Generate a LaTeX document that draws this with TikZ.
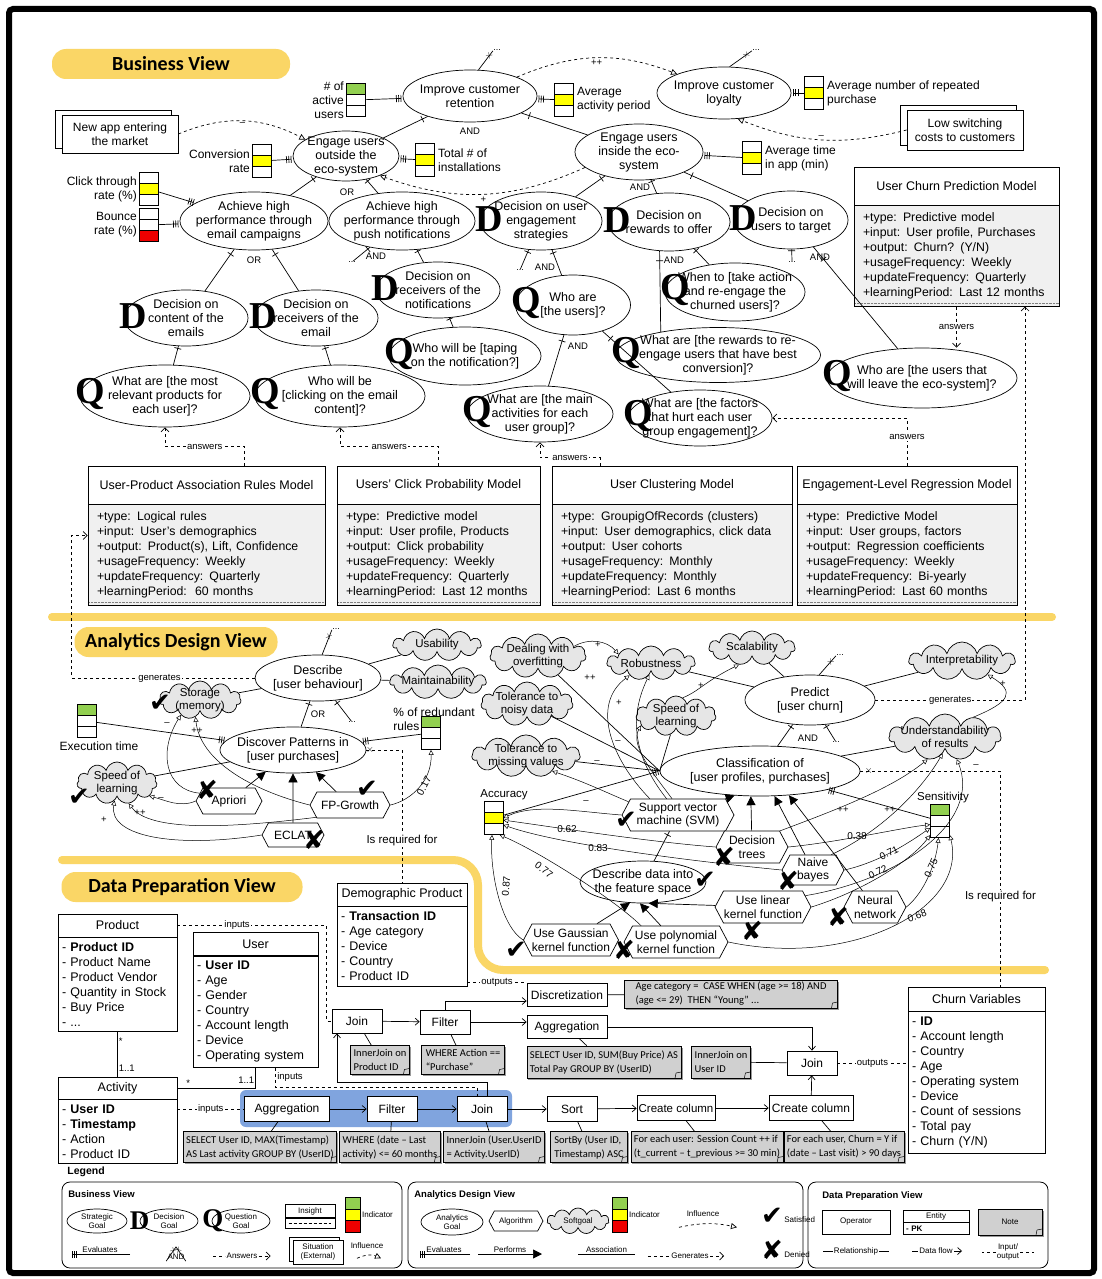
\documentclass[tikz,border=0pt]{standalone}
\usepackage{fontspec}
\setmainfont{Liberation Sans}
\newfontfamily\dqfont{Liberation Serif}
\newfontfamily\calfont{Carlito}
\newfontfamily\markfont{DejaVu Sans}
\usepackage{tikz}
\usetikzlibrary{arrows.meta}
\usetikzlibrary{calc}
\usetikzlibrary{positioning}
\usetikzlibrary{shapes.geometric}
\usetikzlibrary{shapes.symbols}
\usetikzlibrary{shadows}
\newcommand{\fsz}[2]{\fontsize{#1}{#2}\selectfont}
\definecolor{viewyellow}{RGB}{250,214,102}
\definecolor{indgreen}{RGB}{146,208,80}
\definecolor{indyellow}{RGB}{255,255,0}
\definecolor{indred}{RGB}{238,0,0}
\definecolor{softgray}{RGB}{230,230,230}
\definecolor{bodygray}{RGB}{240,240,240}
\definecolor{notegray}{RGB}{208,208,208}
\definecolor{flowblue}{RGB}{128,164,222}
\tikzset{
    viewtitle/.style = {fill=viewyellow,rounded corners=14pt,minimum height=30pt,inner sep=0pt,font=\calfont\bfseries\fsz{20}{21}},
    viewline/.style = {viewyellow,line width=8pt,line cap=round},
    goal/.style = {draw,fill=white,ellipse,align=center,inner xsep=-8pt,inner ysep=-2pt,font=\fsz{12.5}{14}},
    dq/.style = {inner sep=0pt,font=\dqfont\bfseries\fsz{38}{38}},
    dgoal/.style = {goal,label={[dq,label distance=-24pt,yshift=2pt]west:D}},
    qgoal/.style = {goal,label={[dq,label distance=-26pt,yshift=2pt]west:Q}},
    situation/.style = {draw,fill=white,align=center,inner sep=2pt,font=\fsz{12}{14},copy shadow={shadow xshift=-7pt,shadow yshift=5pt,draw,fill=white}},
    legsituation/.style = {draw,fill=white,align=center,inner sep=1pt,font=\fsz{8}{9},copy shadow={shadow xshift=-4pt,shadow yshift=3pt,draw,fill=white}},
    indicator/.style n args = {3}{draw,fill=white,minimum width=19pt,minimum height=33pt,inner sep=0pt,
        path picture={
            \fill[#1] (path picture bounding box.north west) rectangle ($(path picture bounding box.north east)!1/3!(path picture bounding box.south east)$);
            \fill[#2] ($(path picture bounding box.north west)!1/3!(path picture bounding box.south west)$) rectangle ($(path picture bounding box.north east)!2/3!(path picture bounding box.south east)$);
            \fill[#3] ($(path picture bounding box.north west)!2/3!(path picture bounding box.south west)$) rectangle (path picture bounding box.south east);
            \draw ($(path picture bounding box.north west)!1/3!(path picture bounding box.south west)$) -- ($(path picture bounding box.north east)!1/3!(path picture bounding box.south east)$);
            \draw ($(path picture bounding box.north west)!2/3!(path picture bounding box.south west)$) -- ($(path picture bounding box.north east)!2/3!(path picture bounding box.south east)$);}},
    indlabel/.style = {inner sep=2pt,font=\fsz{12}{14}},
    modelhead/.style = {draw,fill=white,minimum height=38pt,inner sep=0pt,font=\fsz{12.5}{14}},
    modelbody/.style = {draw,fill=bodygray,anchor=north,align=left,inner xsep=9pt,inner ysep=7pt,font=\fsz{12.3}{15},
        path picture={\draw[densely dotted,line width=.4pt,gray] ([yshift=3pt]path picture bounding box.south west) -- ([yshift=3pt]path picture bounding box.south east);}},
    soft/.style = {draw,fill=softgray,cloud,cloud puffs=11,cloud ignores aspect,align=center,inner xsep=-8pt,inner ysep=-3pt,font=\fsz{11.5}{13}},
    algo/.style = {draw,fill=white,signal,signal to=east and west,signal pointer angle=124,align=center,inner xsep=0pt,inner ysep=1pt,font=\fsz{12}{13.5}},
    satisfied/.style = {inner sep=0pt,font=\markfont\fsz{26}{26},node contents=✔},
    denied/.style = {inner sep=0pt,font=\markfont\fsz{26}{26},node contents=✘},
    entityhead/.style = {draw,fill=white,minimum height=23pt,inner sep=0pt,font=\fsz{12.5}{14}},
    entitybody/.style = {draw,fill=white,anchor=north,align=left,inner xsep=4pt,inner ysep=5pt,font=\fsz{12.5}{15}},
    operator/.style = {draw,fill=white,minimum height=24pt,inner sep=0pt,font=\fsz{12}{14}},
    note/.style = {draw,fill=notegray,align=left,inner xsep=3pt,inner ysep=2pt,font=\calfont\fsz{10.5}{14},
        drop shadow={shadow xshift=1.5pt,shadow yshift=-1.5pt,opacity=.8},
        path picture={\draw[line width=.5pt] ([xshift=-6pt]path picture bounding box.south east) -- ([xshift=-5pt,yshift=5pt]path picture bounding box.south east) -- ([yshift=6pt]path picture bounding box.south east);}},
    more/.style = {inner sep=0pt,font=\fsz{9}{9}},
    lbl/.style = {inner sep=1pt,font=\fsz{9.5}{10}},
    lblw/.style = {lbl,fill=white},
    num/.style = {inner sep=0.5pt,font=\fsz{10}{11}},
    tick/.style = {sloped,draw,inner sep=0pt,minimum width=0pt,minimum height=7pt},
    xmark/.style = {sloped,inner sep=0pt,font=\fsz{10}{10}},
    evaluates/.style = {-{Bar[width=7pt,sep=1.6pt]Bar[width=7pt,sep=1.6pt]Bar[width=7pt,sep=1.6pt]}},
    influence/.style = {dashed,-{Triangle[open,length=6pt,width=6pt]}},
    infl/.style = {line width=.5pt,-{Triangle[open,length=5pt,width=5pt]}},
    performs/.style = {-{Triangle[length=9pt,width=9pt]}},
    answers/.style = {dashed,-{Straight Barb[length=4pt,width=8pt]}},
    required/.style = {dashed},
    flow/.style = {-{Straight Barb[length=4pt,width=7pt]}},
    io/.style = {dashed},
    legendbox/.style = {draw,rounded corners=8pt,line width=.8pt},
    legtitle/.style = {inner sep=0pt,font=\bfseries\fsz{9.5}{11}},
    legtext/.style = {inner sep=1pt,font=\fsz{8}{9}},
    leggoal/.style = {draw,fill=white,ellipse,align=center,inner xsep=-3pt,inner ysep=-1pt,font=\fsz{8}{9}},
    legdq/.style = {inner sep=0pt,font=\dqfont\bfseries\fsz{27}{27}}
}
\begin{document}
\begin{tikzpicture}[x=1pt,y=-1pt,line width=0.7pt]
    \useasboundingbox (0,0) rectangle (1102,1279);
    \fill[white] (0,0) rectangle (1102,1279);
    % Frame
    \draw[line width=6pt,rounded corners=4pt] (9,9) rectangle (1094,1273);

    % ================= Business View =================
    \node[viewtitle,minimum width=238pt] (bvtitle) at (171,64) {Business View};
    % Goals
    \node[goal,minimum width=134pt,minimum height=52pt] (retention) at (470,96) {Improve customer\\retention};
    \node[goal,minimum width=134pt,minimum height=52pt] (loyalty) at (724,93) {Improve customer\\loyalty};
    \node[goal,minimum width=106pt,minimum height=50pt] (outside) at (346,156) {Engage users\\outside the\\eco-system};
    \node[goal,minimum width=128pt,minimum height=56pt] (inside) at (639,152) {Engage users\\inside the eco-\\system};
    \node[goal,minimum width=148pt,minimum height=58pt] (email) at (254,221) {Achieve high\\performance through\\email campaigns};
    \node[goal,minimum width=146pt,minimum height=58pt] (push) at (402,221) {Achieve high\\performance through\\push notifications};
    % Decisions
    \node[dgoal,minimum width=122pt,minimum height=58pt] (strategies) at (541,221) {Decision on user\\engagement\\strategies};
    \node[dgoal,minimum width=122pt,minimum height=58pt] (rewards) at (669,222) {Decision on\\rewards to offer};
    \node[dgoal,minimum width=114pt,minimum height=58pt] (target) at (791,220) {Decision on\\users to target};
    \node[dgoal,minimum width=124pt,minimum height=56pt] (content) at (186,318) {Decision on\\content of the\\emails};
    \node[dgoal,minimum width=124pt,minimum height=56pt] (receivers) at (316,318) {Decision on\\receivers of the\\email};
    \node[dgoal,minimum width=124pt,minimum height=56pt] (notifrec) at (438,290) {Decision on\\receivers of the\\notifications};
    % Questions
    \node[qgoal,minimum width=115pt,minimum height=60pt] (whousers) at (573,305) {Who are\\{}[the users]?};
    \node[qgoal,minimum width=140pt,minimum height=58pt] (whentake) at (735,292) {When to [take action\\and re-engage the\\churned users]?};
    \node[qgoal,minimum width=205pt,minimum height=55pt] (rewardsq) at (718,355) {What are [the rewards to re-\\engage users that have best\\conversion]?};
    \node[qgoal,minimum width=190pt,minimum height=60pt] (leaveq) at (922,378) {Who are [the users that\\will leave the eco-system]?};
    \node[qgoal,minimum width=170pt,minimum height=62pt] (productsq) at (165,396) {What are [the most\\relevant products for\\each user]?};
    \node[qgoal,minimum width=170pt,minimum height=62pt] (clickq) at (340,396) {Who will be\\{}[clicking on the email\\content]?};
    \node[qgoal,minimum width=152pt,minimum height=58pt] (tapq) at (465,356) {Who will be [taping\\on the notification?]};
    \node[qgoal,minimum width=146pt,minimum height=56pt] (activitiesq) at (540,414) {What are [the main\\activities for each\\user group]?};
    \node[qgoal,minimum width=144pt,minimum height=56pt] (factorsq) at (700,418) {What are [the factors\\that hurt each user\\group engagement]?};
    % Indicators
    \node[indicator={indgreen}{white}{white}] (activeind) at (356,100) {};
    \node[indicator={white}{indyellow}{white}] (periodind) at (564,100) {};
    \node[indicator={white}{indyellow}{white}] (repeatind) at (814,93) {};
    \node[indicator={white}{indyellow}{white}] (conversionind) at (262,161) {};
    \node[indicator={white}{indyellow}{white}] (installind) at (425,160) {};
    \node[indicator={white}{indyellow}{white}] (timeind) at (752,158) {};
    \node[indicator={white}{indyellow}{white}] (clickind) at (149,189) {};
    \node[indicator={white}{white}{indred}] (bounceind) at (149,225) {};
    \node[indlabel,align=right,left=0pt of activeind] (activelbl) {\# of\\active\\users};
    \node[indlabel,align=left,right=1pt of periodind] (periodlbl) {Average\\activity period};
    \node[indlabel,align=left,right=1pt of repeatind] (repeatlbl) {Average number of repeated\\purchase};
    \node[indlabel,align=right,left=0pt of conversionind] (conversionlbl) {Conversion\\rate};
    \node[indlabel,align=left,right=1pt of installind] (installlbl) {Total \# of\\installations};
    \node[indlabel,align=left,right=1pt of timeind] (timelbl) {Average time\\in app (min)};
    \node[indlabel,align=right,left=0pt of clickind] (clicklbl) {Click through\\rate (\%)};
    \node[indlabel,align=right,left=0pt of bounceind] (bouncelbl) {Bounce\\rate (\%)};
    % Situations
    \node[situation,minimum width=116pt,minimum height=38pt] (newapp) at (120,134) {New app entering\\the market};
    \node[situation,minimum width=116pt,minimum height=40pt] (switching) at (965,130) {Low switching\\costs to customers};
    % Insights
    \node[modelhead,minimum width=205pt] (churnhead) at (956.5,186) {User Churn Prediction Model};
    \node[modelbody,text width=187pt] (churnbody) at (churnhead.south) {+type: Predictive model\\+input: User profile, Purchases\\+output: Churn? (Y/N)\\+usageFrequency: Weekly\\+updateFrequency: Quarterly\\+learningPeriod: Last 12 months};
    \node[modelhead,minimum width=237pt] (Ahead) at (206.5,485) {User-Product Association Rules Model};
    \node[modelbody,text width=219pt] (Abody) at (Ahead.south) {+type: Logical rules\\+input: User's demographics\\+output: Product(s), Lift, Confidence\\+usageFrequency: Weekly\\+updateFrequency: Quarterly\\+learningPeriod:\ \ 60 months};
    \node[modelhead,minimum width=203pt] (Bhead) at (438.5,485) {Users' Click Probability Model};
    \node[modelbody,text width=185pt] (Bbody) at (Bhead.south) {+type: Predictive model\\+input: User profile, Products\\+output: Click probability\\+usageFrequency: Weekly\\+updateFrequency: Quarterly\\+learningPeriod: Last 12 months};
    \node[modelhead,minimum width=240pt] (Chead) at (672,485) {User Clustering Model};
    \node[modelbody,text width=222pt] (Cbody) at (Chead.south) {+type: GroupigOfRecords (clusters)\\+input: User demographics, click data\\+output: User cohorts\\+usageFrequency: Monthly\\+updateFrequency: Monthly\\+learningPeriod: Last 6 months};
    \node[modelhead,minimum width=220pt] (Dhead) at (907,485) {Engagement-Level Regression Model};
    \node[modelbody,text width=202pt] (Dbody) at (Dhead.south) {+type: Predictive Model\\+input: User groups, factors\\+output: Regression coefficients\\+usageFrequency: Weekly\\+updateFrequency: Bi-yearly\\+learningPeriod: Last 60 months};
    % Refinement labels
    \node[lbl] (andret) at (470,131) {AND};
    \node[lbl] (orout) at (347,192) {OR};
    \node[lbl] (andpush) at (376,256) {AND};
    \node[lbl] (oremail) at (254,260) {OR};
    \node[lbl] (andin) at (640,187) {AND};
    \node[lbl] (andstrat) at (545,267) {AND};
    \node[lbl] (andrew) at (674,260) {AND};
    \node[lbl] (andtarget) at (820,257) {AND};
    \node[lbl] (andwho) at (578,346) {AND};
    \node[more] (retmore) at (497,50) {...};
    \node[more] (loymore) at (756,50) {...};
    \node[more] (pushmore) at (352,262) {...};
    \node[more] (stratmore) at (520,270) {...};
    \node[more] (targetmore) at (792,262) {...};
    % Refinements
    \foreach \kid/\mom in {outside/retention,inside/retention,email/outside,push/outside,content/email,receivers/email,strategies/inside,rewards/inside,target/inside,notifrec/push,whousers/strategies,whentake/rewards,leaveq/target,activitiesq/whousers,factorsq/whousers,productsq/content,clickq/receivers,tapq/notifrec,pushmore/push,stratmore/strategies,targetmore/target}
        \draw (\kid) to node[tick,pos=.88]{} (\mom);
    \draw (rewardsq.158) to node[tick,pos=.88]{} (rewards.252);
    \draw (retention.72) to node[xmark,pos=.75]{$\times$} (retmore.south west);
    \draw (loyalty.78) to node[xmark,pos=.75]{$\times$} (loymore.south west);
    % Evaluations
    \foreach \ind/\goal in {activeind/retention,periodind/retention,repeatind/loyalty,conversionind/outside,installind/outside,timeind/inside,clickind/email,bounceind/email}
        \draw[evaluates] (\ind) to (\goal);
    % Influences
    \draw[influence] (retention.22) to[bend left=22] node[lbl,below=1pt]{++} (loyalty.158);
    \draw[influence] (inside.196) to[bend left=22] node[lbl,below=2pt]{+} (outside.-30);
    \draw[influence] (newapp.east) to[bend left=25] node[lbl,below]{–} (outside.158);
    \draw[influence] (switching.west) to[bend left=18] node[lbl,above]{–} (loyalty.-62);
    % Answers
    \draw[answers] ([xshift=38pt]Ahead.north) -- ++(0,-19) -| node[lblw,pos=.25]{answers} (productsq.south);
    \draw[answers] (Bhead.north) -- ++(0,-19) -| node[lblw,pos=.25]{answers} (clickq.south);
    \draw[answers] ([xshift=-72pt]Chead.north) -- ++(0,-8) -| node[lblw,pos=.25]{answers} (activitiesq.south);
    \draw[answers] (Dhead.north) |- node[lblw,pos=.3]{answers} (factorsq.east);
    \draw[answers] (churnbody.south) -- node[lblw]{answers} (churnbody.south |- leaveq.north);

    % ================= Analytics Design View =================
    \draw[viewline] (52,617) -- (1052,617);
    \node[viewtitle,minimum width=203pt] (adtitle) at (176,642) {Analytics Design View};
    % Analytics goals
    \node[goal,minimum width=126pt,minimum height=46pt] (describe) at (318,678) {Describe\\{}[user behaviour]};
    \node[goal,minimum width=146pt,minimum height=46pt] (discover) at (293,750) {Discover Patterns in\\{}[user purchases]};
    \node[goal,minimum width=130pt,minimum height=50pt] (predict) at (810,700) {Predict\\{}[user churn]};
    \node[goal,minimum width=200pt,minimum height=50pt] (classification) at (760,771) {Classification of\\{}[user profiles, purchases]};
    \node[goal,minimum width=126pt,minimum height=42pt] (featurespace) at (643,882) {Describe data into\\the feature space};
    % Softgoals
    \node[soft,minimum width=88pt,minimum height=32pt] (usability) at (437,645) {Usability};
    \node[soft,minimum width=96pt,minimum height=34pt] (maintain) at (438,682) {Maintainability};
    \node[soft,minimum width=82pt,minimum height=38pt] (storage) at (200,700) {Storage\\(memory)};
    \node[soft,minimum width=80pt,minimum height=42pt] (speedl) at (117,783) {Speed of\\learning};
    \node[soft,minimum width=96pt,minimum height=44pt] (overfit) at (538,656) {Dealing with\\overfitting};
    \node[soft,minimum width=88pt,minimum height=34pt] (robust) at (651,663) {Robustness};
    \node[soft,minimum width=86pt,minimum height=34pt] (scalab) at (752,648) {Scalability};
    \node[soft,minimum width=106pt,minimum height=38pt] (interp) at (962,661) {Interpretability};
    \node[soft,minimum width=92pt,minimum height=44pt] (noisy) at (527,704) {Tolerance to\\noisy data};
    \node[soft,minimum width=80pt,minimum height=40pt] (speedr) at (676,716) {Speed of\\learning};
    \node[soft,minimum width=108pt,minimum height=42pt] (missing) at (526,756) {Tolerance to\\missing values};
    \node[soft,minimum width=112pt,minimum height=46pt] (understand) at (945,737) {Understandability\\of results};
    % Indicators
    \node[indicator={indgreen}{white}{white}] (exectime) at (87,721) {};
    \node[indlabel,anchor=north] (execlbl) at (99,739) {Execution time};
    \node[indicator={indgreen}{white}{white}] (redundant) at (431,733) {};
    \node[indlabel,anchor=west,align=left] (redundantlbl) at (391,719) {\% of redundant\\rules};
    \node[indicator={white}{indyellow}{white}] (accuracy) at (493.5,818) {};
    \node[indlabel,anchor=south,font=\fsz{11.5}{13}] (acclbl) at (504,802) {Accuracy};
    \node[indicator={indgreen}{white}{white}] (sensitivity) at (940,821) {};
    \node[indlabel,anchor=south,font=\fsz{11.5}{13}] (senslbl) at (943,805) {Sensitivity};
    % Algorithms
    \node[algo,minimum width=66pt,minimum height=26pt] (apriori) at (229,801) {Apriori};
    \node[algo,minimum width=80pt,minimum height=26pt] (fpgrowth) at (350,805) {FP-Growth};
    \node[algo,minimum width=62pt,minimum height=24pt] (eclat) at (293,835) {ECLAT};
    \node[algo,minimum width=112pt,minimum height=32pt] (svm) at (678,815) {Support vector\\machine (SVM)};
    \node[algo,minimum width=72pt,minimum height=32pt] (trees) at (752,847) {Decision\\trees};
    \node[algo,minimum width=62pt,minimum height=30pt] (naive) at (813,870) {Naive\\bayes};
    \node[algo,minimum width=96pt,minimum height=32pt] (linear) at (763,907) {Use linear\\kernel function};
    \node[algo,minimum width=62pt,minimum height=32pt] (neural) at (875,907) {Neural\\network};
    \node[algo,minimum width=92pt,minimum height=32pt] (gaussian) at (571,940) {Use Gaussian\\kernel function};
    \node[algo,minimum width=104pt,minimum height=32pt] (polynomial) at (676,942) {Use polynomial\\kernel function};
    % Labels
    \node[lbl] (ordesc) at (318,714) {OR};
    \node[lbl] (andpred) at (808,738) {AND};
    \node[more] (descmore) at (336,629) {...};
    \node[more] (discmore) at (352,722) {...};
    \node[more] (predmore) at (840,655) {...};
    \node[more] (classmore) at (836,742) {...};
    % Refinements and associations
    \foreach \kid/\mom in {discover/describe,discmore/describe,classification/predict,classmore/predict,featurespace/svm}
        \draw (\kid) to node[tick,pos=.88]{} (\mom);
    \draw (describe.80) to node[xmark,pos=.7]{$\times$} (descmore.south west);
    \draw (predict.70) to node[xmark,pos=.7]{$\times$} (predmore.south west);
    \foreach \a/\b in {describe/usability,describe/maintain,describe/storage,discover/speedl,predict/robust,predict/scalab,predict/interp,classification/understand}
        \draw (\a) to (\b);
    \foreach \c in {overfit,noisy,missing,speedr}
        \draw (\c) to (classification.west);
    % Evaluations
    \foreach \ind/\goal in {exectime/discover,redundant/discover,sensitivity/classification}
        \draw[evaluates] (\ind) to (\goal);
    \draw[evaluates] (accuracy) to (classification.west);
    % Performs
    \foreach \alg/\ag in {apriori/discover,fpgrowth/discover,eclat/discover,svm/classification.224,trees/classification.250,naive/classification.300,neural/classification.320,gaussian/featurespace.238,polynomial/featurespace.262,linear/featurespace.285}
        \draw[performs] (\alg) to (\ag);
    % Influences (left)
    \draw[infl] (apriori.west) .. controls (180,808) and (165,800) .. (speedl.-22);
    \draw[infl] (apriori.165) .. controls (165,790) and (158,752) .. (storage.218);
    \draw[infl] (fpgrowth.west) .. controls (250,790) and (200,760) .. (storage.255);
    \draw[infl] (fpgrowth.200) .. controls (230,828) and (150,832) .. (speedl.300);
    \draw[infl] (eclat.west) .. controls (180,848) and (108,838) .. (speedl.262);
    \draw[infl] (fpgrowth.east) .. controls (412,800) and (432,780) .. (redundant.south);
    \node[lbl] (i1) at (161,799) {–};
    \node[lbl] (i2) at (167,724) {–};
    \node[lbl] (i3) at (197,731) {++};
    \node[lbl] (i4) at (140,813) {++};
    \node[lbl] (i5) at (104,820) {+};
    \node[num,rotate=62] (i6) at (424,786) {0.17};
    % Influences (right)
    \draw[infl] (overfit.15) to[bend left=40] (robust.165);
    \draw[infl] (svm.150) .. controls (612,760) and (590,705) .. (robust.210);
    \draw[infl] (svm.125) .. controls (640,765) and (625,725) .. (robust.262);
    \draw[infl] (svm.110) .. controls (652,772) and (630,745) .. (speedr.195);
    \draw[infl] (svm.165) .. controls (605,792) and (585,782) .. (missing.330);
    \draw[infl] (svm.west) .. controls (580,812) and (535,803) .. (accuracy.east);
    \draw[infl] (trees.west) .. controls (650,842) and (560,828) .. (accuracy.-12);
    \draw[infl] (naive.west) .. controls (700,862) and (560,845) .. (accuracy.-35);
    \draw[infl] (polynomial.155) .. controls (615,900) and (540,852) .. (accuracy.-70);
    \draw[infl] (gaussian.west) .. controls (500,925) and (490,870) .. (accuracy.-95);
    \draw[infl] (trees.east) .. controls (840,842) and (900,828) .. (sensitivity.200);
    \draw[infl] (naive.east) .. controls (880,862) and (910,842) .. (sensitivity.215);
    \draw[infl] (linear.east) .. controls (860,892) and (910,862) .. (sensitivity.235);
    \draw[infl] (neural.east) .. controls (925,892) and (936,862) .. (sensitivity.265);
    \draw[infl] (polynomial.east) .. controls (850,968) and (968,910) .. (sensitivity.-55);
    \draw[infl] (trees.30) .. controls (830,812) and (890,790) .. (understand.232);
    \draw[infl] (naive.40) .. controls (880,832) and (920,792) .. (understand.262);
    \draw[infl] (linear.15) .. controls (900,880) and (982,822) .. (understand.-62);
    \draw[infl] (understand.35) .. controls (1010,702) and (1016,692) .. (interp.-28);
    \draw[infl] (speedr.70) .. controls (698,692) and (704,682) .. (scalab.232);
    \node[lbl] (j1) at (598,645) {+};
    \node[lbl] (j2) at (590,678) {++};
    \node[lbl] (j3) at (619,703) {+};
    \node[lbl] (j4) at (618,742) {–};
    \node[lbl] (j5) at (597,762) {–};
    \node[lbl] (j6) at (586,802) {–};
    \node[num] (j7) at (567,829) {0.62};
    \node[num] (j8) at (598,848) {0.83};
    \node[num,rotate=-38] (j9) at (544,870) {0.77};
    \node[num,rotate=85] (j10) at (506,886) {0.87};
    \node[num] (j11) at (857,836) {0.38};
    \node[num,rotate=25] (j12) at (889,853) {0.71};
    \node[num,rotate=25] (j13) at (878,872) {0.72};
    \node[num,rotate=65] (j14) at (931,868) {0.75};
    \node[num,rotate=20] (j15) at (917,916) {0.68};
    \node[lbl] (j16) at (843,810) {++};
    \node[lbl] (j17) at (890,810) {++};
    \node[lbl] (j18) at (976,766) {–};
    \node[lbl] (j19) at (1003,684) {+};
    \node[lbl] (j20) at (701,686) {+};
    % Satisfaction marks
    \node (okstorage) at (160,703) [satisfied];
    \node (okspeed) at (79,797) [satisfied];
    \node (noapriori) at (207,790) [denied];
    \node (okfp) at (367,789) [satisfied];
    \node (noeclat) at (314,840) [denied];
    \node (oksvm) at (626,820) [satisfied];
    \node (notrees) at (724,857) [denied];
    \node (nonaive) at (788,881) [denied];
    \node (okfeature) at (705,880) [satisfied];
    \node (nolinear) at (752,931) [denied];
    \node (noneural) at (838,917) [denied];
    \node (okgauss) at (516,950) [satisfied];
    \node (nopoly) at (624,950) [denied];
    % Generates
    \draw[answers] (predict.east) -| node[lblw,pos=.25]{generates} ([xshift=68.5pt]churnbody.south);
    \draw[answers] (describe.west) -- node[lblw,pos=.52]{generates} ++(-183,0) |- ([yshift=19.5pt]Abody.west);

    % ================= Data Preparation View =================
    \draw[viewline,rounded corners=25pt] (62,860) -- (478,860) -- (478,970) -- (1045,970);
    \node[viewtitle,minimum width=241pt] (dptitle) at (182,887) {Data Preparation View};
    % Entities
    \node[entityhead,minimum width=119pt] (producthead) at (117.5,925.5) {Product};
    \node[entitybody,text width=111pt] (productbody) at (producthead.south) {- \textbf{Product ID}\\- Product Name\\- Product Vendor\\- Quantity in Stock\\- Buy Price\\- ...};
    \node[entityhead,minimum width=125pt] (userhead) at (255.5,944) {User};
    \node[entitybody,text width=117pt] (userbody) at (userhead.south) {- \textbf{User ID}\\- Age\\- Gender\\- Country\\- Account length\\- Device\\- Operating system};
    \node[entityhead,minimum width=130pt] (demohead) at (402,894.5) {Demographic Product};
    \node[entitybody,text width=122pt] (demobody) at (demohead.south) {- \textbf{Transaction ID}\\- Age category\\- Device\\- Country\\- Product ID};
    \node[entityhead,minimum width=119pt,minimum height=22pt] (activityhead) at (117.5,1088) {Activity};
    \node[entitybody,text width=111pt] (activitybody) at (activityhead.south) {- \textbf{User ID}\\- \textbf{Timestamp}\\- Action\\- Product ID};
    \node[entityhead,minimum width=137pt,minimum height=24pt] (churnvarhead) at (976.5,999) {Churn Variables};
    \node[entitybody,text width=129pt] (churnvarbody) at (churnvarhead.south) {- \textbf{ID}\\- Account length\\- Country\\- Age\\- Operating system\\- Device\\- Count of sessions\\- Total pay\\- Churn (Y/N)};
    % Operators
    \fill[flowblue,rounded corners=6pt] (240,1090) rectangle (512,1127);
    \node[operator,minimum width=50pt] (join1) at (357,1021) {Join};
    \node[operator,minimum width=50pt] (filter1) at (445,1022) {Filter};
    \node[operator,minimum width=80pt,minimum height=23pt] (discret) at (567,995) {Discretization};
    \node[operator,minimum width=80pt,minimum height=23pt] (aggr1) at (567,1027) {Aggregation};
    \node[operator,minimum width=50pt] (join2) at (812,1063) {Join};
    \node[operator,minimum width=85pt,minimum height=25pt] (aggr2) at (287,1109) {Aggregation};
    \node[operator,minimum width=50pt,minimum height=25pt] (filter2) at (392,1109) {Filter};
    \node[operator,minimum width=50pt,minimum height=25pt] (join3) at (482,1109) {Join};
    \node[operator,minimum width=50pt,minimum height=25pt] (sortop) at (572,1109) {Sort};
    \node[operator,minimum width=78pt,minimum height=25pt,font=\fsz{11.5}{13}] (create1) at (676,1108) {Create column};
    \node[operator,minimum width=84pt,minimum height=25pt] (create2) at (811,1108) {Create column};
    % Notes
    \node[note,minimum width=56pt,minimum height=29pt] (note1) at (380,1060) {InnerJoin on\\Product ID};
    \node[note,minimum width=83pt,minimum height=29pt] (note2) at (463,1060) {WHERE Action ==\\“Purchase”};
    \node[note,minimum width=213pt,minimum height=28pt] (note3) at (731,994) {Age category =\ \ CASE WHEN (age >= 18) AND\\(age <= 29)\ \ THEN “Young” ...};
    \node[note,minimum width=152pt,minimum height=32pt] (note4) at (604,1062) {SELECT User ID, SUM(Buy Price) AS\\Total Pay GROUP BY (UserID)};
    \node[note,minimum width=57pt,minimum height=32pt] (note5) at (721,1062) {InnerJoin on\\User ID};
    \node[note,minimum width=150pt,minimum height=31pt] (note6) at (260,1147) {SELECT User ID, MAX(Timestamp)\\AS Last activity GROUP BY (UserID)};
    \node[note,minimum width=100pt,minimum height=31pt] (note7) at (390,1147) {WHERE (date – Last\\activity) <= 60 months};
    \node[note,minimum width=100pt,minimum height=31pt] (note8) at (494,1147) {InnerJoin (User.UserID\\= Activity.UserID)};
    \node[note,minimum width=77pt,minimum height=31pt] (note9) at (589,1147) {SortBy (User ID,\\Timestamp) ASC};
    \node[note,minimum width=149pt,minimum height=31pt] (note10) at (707,1147) {For each user: Session Count ++ if\\(t\_current – t\_previous >= 30 min)};
    \node[note,minimum width=117pt,minimum height=31pt] (note11) at (844,1147) {For each user, Churn = Y if\\(date – Last visit) > 90 days};
    \foreach \op/\nt in {join1/note1,filter1/note2,discret/note3,aggr1/note4,join2/note5,aggr2/note6,filter2/note7,join3/note8,sortop/note9,create1/note10,create2/note11}
        \draw (\op) to (\nt);
    % Data flows
    \foreach \src/\dest in {join1/filter1,aggr2/filter2,filter2/join3,join3/sortop,sortop/create1,create1/create2,create2/join2}
        \draw[flow] (\src) to (\dest);
    \draw[flow] (filter1.north) |- ([yshift=-6pt]discret.west);
    \draw[flow] (filter1.east) -- (filter1.east -| aggr1.west);
    \draw[flow] (aggr1.east) -| (join2.north);
    \draw[flow] ([xshift=5pt]join3.north) -- ++(0,-14) -| ([xshift=-20pt]join1.south);
    % Inputs and outputs
    \coordinate (demoout) at ([yshift=4pt]demobody.south east);
    \coordinate (userbend) at (275,1087);
    \draw[io] (producthead.east) -| node[lblw,pos=.2]{inputs} ([xshift=-5pt]join1.west) -- (join1.west);
    \draw[io] (userbody.south -| userbend) -- (userbend) -| ([xshift=-5pt]join3.north);
    \node[lbl,anchor=west] (userinlbl) at (276,1077) {inputs};
    \draw[io] (activitybody.east |- aggr2.west) -- node[lblw]{inputs} (aggr2.west);
    \draw[io] (demoout) -- node[lblw]{outputs} (demoout -| discret.west);
    \draw[io] (join2.east) -- node[lblw]{outputs} (join2.east -| churnvarbody.west);
    % Relationships
    \draw (productbody.south) -- node[lbl,pos=.2,right]{*} node[lbl,pos=.8,right]{1..1} (activityhead.north);
    \draw (userbody.south) |- node[lbl,pos=.3,left]{1..1} node[lbl,pos=.93,above]{*} (activityhead.east);
    % Requirements
    \draw[required] (discover.east) -| node[xmark,pos=.05]{$\times$} node[lblw,pos=.84,font=\fsz{11.5}{13}]{Is required for} (demohead.north);
    \draw[required] (classification.east) -| node[xmark,pos=.03]{$\times$} node[lblw,pos=.79,font=\fsz{11.5}{13}]{Is required for} ([xshift=24pt]churnvarhead.north);

    % ================= Legend =================
    \node[anchor=west,inner sep=0pt,font=\bfseries\fsz{10.5}{12}] (legend) at (67,1172) {Legend};
    \node[legendbox,minimum width=340pt,minimum height=86pt] (legbv) at (232,1225) {};
    \node[legendbox,minimum width=395pt,minimum height=86pt] (legad) at (605.5,1225) {};
    \node[legendbox,minimum width=240pt,minimum height=86pt] (legdp) at (928,1225) {};
    % Business legend
    \node[legtitle,anchor=west] (legbvtitle) at (68,1194) {Business View};
    \node[leggoal,minimum width=60pt,minimum height=24pt] (legsg) at (97,1221) {Strategic\\Goal};
    \node[leggoal,minimum width=58pt,minimum height=24pt,label={[legdq,label distance=-10pt]west:D}] (legdg) at (169,1221) {Decision\\Goal};
    \node[leggoal,minimum width=58pt,minimum height=24pt,label={[legdq,label distance=-12pt]west:Q}] (legqg) at (241,1221) {Question\\Goal};
    \node[draw,fill=white,minimum width=50pt,minimum height=13pt,inner sep=0pt,font=\fsz{8}{9}] (leginsight) at (310,1211) {Insight};
    \node[draw,fill=white,anchor=north,minimum width=50pt,minimum height=10pt] (leginsightb) at (leginsight.south) {};
    \draw[densely dashed,line width=.4pt] ([xshift=4pt]leginsightb.west) -- ([xshift=-4pt]leginsightb.east);
    \node[indicator={indgreen}{indyellow}{indred},minimum width=15pt,minimum height=35pt] (legbvind) at (353,1215) {};
    \node[legtext,anchor=west] (legbvindlbl) at (legbvind.east) {Indicator};
    \coordinate (legeva) at (70,1254);
    \coordinate (legevb) at (130,1254);
    \draw[evaluates] (legevb) -- node[legtext,above]{Evaluates} (legeva);
    \node[legtext] (legand) at (176,1257) {AND};
    \draw (legand.south west) -- node[xmark,pos=.75]{$\times$} ([yshift=6pt]legand.north) -- node[xmark,pos=.25]{$\times$} (legand.south east);
    \node[legtext] (legans) at (242,1256) {Answers};
    \draw[dashed] ([xshift=-12pt]legans.west) -- (legans.west);
    \draw[answers] (legans.east) -- ([xshift=12pt]legans.east);
    \node[legsituation,minimum width=50pt,minimum height=24pt] (legsit) at (318,1252) {Situation\\(External)};
    \node[legtext] (legbvinfl) at (367,1246) {Influence};
    \draw[influence] ([xshift=-10pt,yshift=-8pt]legbvinfl.south) to[bend left=25] ([xshift=14pt,yshift=-8pt]legbvinfl.south);
    % Analytics legend
    \node[legtitle,anchor=west] (legadtitle) at (414,1195) {Analytics Design View};
    \node[leggoal,minimum width=62pt,minimum height=26pt] (legag) at (452,1222) {Analytics\\Goal};
    \node[algo,font=\fsz{8}{9},minimum width=54pt,minimum height=20pt] (legalgo) at (516,1221) {Algorithm};
    \node[soft,font=\fsz{8}{9},minimum width=62pt,minimum height=26pt,inner xsep=-3pt] (legsoft) at (578,1221) {Softgoal};
    \node[indicator={indgreen}{indyellow}{indred},minimum width=15pt,minimum height=35pt] (legadind) at (620,1215) {};
    \node[legtext,anchor=west] (legadindlbl) at (legadind.east) {Indicator};
    \node[legtext] (legadinfl) at (703,1214) {Influence};
    \draw[influence] ([xshift=-24pt,yshift=-9pt]legadinfl.south) to[bend left=12] ([xshift=34pt,yshift=-9pt]legadinfl.south);
    \node (legok) at (772,1216) [satisfied];
    \node[legtext,anchor=west] (legoklbl) at (783,1220) {Satisfied};
    \coordinate (legadeva) at (418,1254);
    \coordinate (legadevb) at (470,1254);
    \draw[evaluates] (legadevb) -- node[legtext,above]{Evaluates} (legadeva);
    \coordinate (legperfa) at (478,1254);
    \coordinate (legperfb) at (542,1254);
    \draw[performs] (legperfa) -- node[legtext,above]{Performs} (legperfb);
    \coordinate (legassa) at (578,1254);
    \coordinate (legassb) at (635,1254);
    \draw (legassa) -- node[legtext,above]{Association} (legassb);
    \node[legtext] (leggen) at (690,1256) {Generates};
    \draw[dashed] ([xshift=-22pt]leggen.west) -- (leggen.west);
    \draw[answers] (leggen.east) -- ([xshift=14pt]leggen.east);
    \node (legno) at (772,1250) [denied];
    \node[legtext,anchor=west] (legnolbl) at (783,1255) {Denied};
    % Data preparation legend
    \node[legtitle,anchor=west] (legdptitle) at (822,1196) {Data Preparation View};
    \node[operator,font=\fsz{8}{9},minimum width=68pt,minimum height=24pt] (legop) at (856,1222) {Operator};
    \node[draw,fill=white,minimum width=66pt,minimum height=12pt,inner sep=0pt,font=\fsz{8}{9}] (legent) at (936,1216) {Entity};
    \node[draw,fill=white,anchor=north,minimum height=12pt,inner sep=0pt,inner xsep=3pt,font=\bfseries\fsz{8}{9},text width=60pt,align=left] (legentb) at (legent.south) {- PK};
    \node[note,font=\fsz{8}{9},minimum width=64pt,minimum height=26pt,align=center] (legnote) at (1010,1222) {Note};
    \node[legtext] (legrel) at (856,1251) {Relationship};
    \draw (legrel.west) -- ([xshift=-10pt]legrel.west);
    \draw (legrel.east) -- ([xshift=10pt]legrel.east);
    \node[legtext] (legflow) at (936,1251) {Data flow};
    \draw (legflow.west) -- ([xshift=-6pt]legflow.west);
    \draw[flow] (legflow.east) -- ([xshift=8pt]legflow.east);
    \node[legtext,align=center] (legio) at (1008,1252) {Input/\\output};
    \draw[dashed] (legio.west) -- ([xshift=-14pt]legio.west);
    \draw[dashed] (legio.east) -- ([xshift=14pt]legio.east);
\end{tikzpicture}
\end{document}
